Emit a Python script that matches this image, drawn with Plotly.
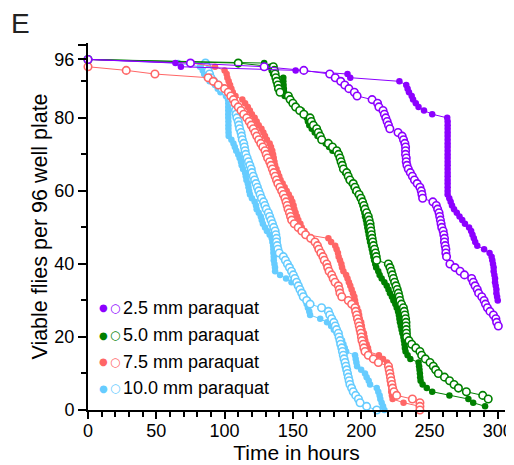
import plotly.graph_objects as go

# ---------------- data (hours, viable flies) ----------------
t_25_filled = [0, 64, 68, 152, 190, 192, 228, 233, 234, 235, 237, 238, 240, 242, 246, 252, 263,
               263.3, 263.3, 263.3, 263.3, 263.3, 263.3, 263.3, 263.3, 263.3, 263.3, 263.3, 263.3, 263.3,
               263.3, 263.3, 263.3, 263.3, 263.3, 263.3, 263.3, 263.3,
               264.5, 265.5, 266.5, 268, 270, 272, 274, 276, 279, 280.5, 281.5, 282.5, 283.5, 285, 290,
               294, 295.5, 296, 296.5, 297, 297, 297.5, 298, 298, 298.5, 299, 299, 299.5, 300]
n_25_filled = [96, 95, 94, 93, 92, 91, 90, 89, 88, 87, 86, 85, 84, 83, 82, 81, 80,
               79, 78, 77, 76, 75, 74, 73, 72, 71, 70, 69, 68, 67, 66, 65, 64, 63, 62, 61, 60, 59,
               58, 57, 56, 55, 54, 53, 52, 51, 50, 49, 48, 47, 46, 45, 44,
               43, 42, 41, 40, 39, 38, 37, 36, 35, 34, 33, 32, 31, 30]

t_25_open = [0, 75, 129, 158, 177, 181, 185, 188, 191, 195, 197, 208, 212, 213, 216, 217, 218, 219,
             220, 221, 227, 230, 231, 232, 232.5, 232.5, 232.5, 233, 233, 233.5, 234.5, 236, 237.5,
             239, 241, 243, 244, 244.5, 245, 252.5, 255, 256, 257, 257.5, 258, 258.5, 259, 260,
             260.5, 261, 261, 261.5, 262, 262, 262.5, 265, 268.7, 272.4, 275.6, 280.9, 282.1, 283.4,
             285, 286, 288.3, 290, 291, 292.4, 294.3, 296.8, 298.6, 299.2, 300.4]
n_25_open = [96, 95, 94, 93, 92, 91, 90, 89, 88, 87, 86, 85, 84, 83, 82, 81, 80, 79,
             78, 77, 76, 75, 74, 73, 72, 71, 70, 69, 68, 67, 66, 65, 64,
             63, 62, 61, 60, 59, 58, 57, 56, 55, 54, 53, 52, 51, 50, 49,
             48, 47, 46, 45, 44, 43, 42, 40, 39, 38, 37, 36, 35, 34,
             33, 32, 31, 30, 29, 28, 27, 26, 25, 24, 23]

t_50_filled = [0, 129, 133.3, 134.5, 135.5, 143, 143, 143.2, 143.4, 143.6, 144, 148.6, 150.3, 152.8,
               156.5, 158.9, 160.1, 161, 162, 163.8, 166, 168, 171, 174, 176.5, 179, 183, 184, 184.8,
               186, 187, 188.2, 190, 191, 193, 194.5, 195.5, 197.5, 199, 200, 201, 201.6, 202.3, 202.8,
               203.5, 204, 204.5, 205, 205.5, 206, 206.5, 207.2, 207.8, 208.3, 208.9, 209.5, 210.3, 211,
               212.5, 213.5, 215, 217, 218.7, 220, 221.1, 222.5, 223.6, 225, 226, 227, 227.6, 228, 228.4,
               229, 229.6, 230.2, 230.9, 231.3, 231.7, 232, 232.5, 234, 236, 242, 242.4, 242.7, 243,
               243.2, 243.5, 245, 248, 252, 264.6, 278.5, 282, 290.7]
n_50_filled = [96, 95, 94, 93, 92, 91, 90, 89, 88, 87, 86, 85, 84, 83,
               82, 81, 80, 79, 78, 77, 76, 75, 74, 73, 72, 71, 70, 69, 68,
               67, 66, 65, 64, 63, 62, 61, 60, 59, 58, 57, 56, 55, 54, 53,
               52, 51, 50, 49, 48, 47, 46, 45, 44, 43, 42, 41, 40, 39,
               38, 37, 36, 35, 34, 33, 32, 31, 30, 29, 28, 27, 26, 25, 24,
               23, 22, 21, 20, 19, 18, 17, 16, 15, 14, 13, 12, 11, 10,
               9, 8, 7, 6, 5, 4, 3, 2, 1]

t_50_open = [0, 110, 135.7, 136.5, 137, 137.5, 138.2, 139, 139.5, 140.6, 146.7, 148, 150, 152, 155,
             158, 162.6, 163.5, 165, 167.4, 168.6, 170, 171.1, 176, 179, 182.1, 183.5, 184.5, 185.3,
             186.2, 187, 189.4, 190.5, 191.8, 194.2, 195.5, 196.7, 198.5, 199.9, 201, 202, 202.8, 204,
             205.2, 205.8, 206.5, 206.8, 207.2, 207.6, 208, 208.5, 209, 209.8, 210.5, 211, 211.4,
             219.9, 221.1, 222, 222.8, 223.6, 224.5, 225.5, 226.4, 227.2, 227.8, 228.4, 229.5, 230.9,
             231.5, 232, 232.5, 232.8, 232.8, 233, 233.1, 233.3, 235, 237, 240, 243, 244.3, 247,
             250.4, 252.8, 254.5, 256.5, 261, 264.7, 268, 271.2, 277, 289, 293]
n_50_open = [96, 95, 94, 93, 92, 91, 90, 89, 88, 87, 86, 85, 84, 83, 82,
             81, 80, 79, 78, 77, 76, 75, 74, 73, 72, 71, 70, 69, 68,
             67, 66, 65, 64, 63, 62, 61, 60, 59, 58, 57, 56, 55, 54,
             53, 52, 51, 50, 49, 48, 47, 46, 45, 44, 43, 42, 41,
             40, 39, 38, 37, 36, 35, 34, 33, 32, 31, 30, 29, 28,
             27, 26, 25, 24, 23, 22, 21, 20, 19, 18, 17, 16, 15, 14,
             13, 12, 11, 10, 9, 8, 7, 6, 5, 4, 3]

t_75_filled = [0, 76, 93, 100, 101.5, 102, 103, 104, 105, 106, 108, 113, 115, 117, 118.5, 120, 122,
               123.5, 125, 127, 128.4, 129.6, 131, 133, 134, 134.9, 135.5, 136, 136.5, 137, 138, 139,
               140, 141, 142.5, 144, 145.5, 147, 148.5, 149.6, 150.5, 151.1, 152, 153, 154, 155.5,
               156.5, 158.5, 160, 176, 178, 181, 182, 183, 183.5, 184.5, 185.5, 186, 187, 189, 190,
               191, 192, 193, 194, 195, 195.5, 196, 197, 198, 198.5, 199, 200, 200.5, 201, 202, 202.5,
               203, 204, 205, 205.5, 213, 216, 219, 219.5, 220, 220.5, 221, 221, 221.5, 222, 222,
               222.5, 223, 231, 243, 243]
n_75_filled = [96, 95, 94, 93, 92, 91, 90, 89, 88, 87, 86, 85, 84, 83, 82, 81, 80,
               79, 78, 77, 76, 75, 74, 73, 72, 71, 70, 69, 68, 67, 66, 65,
               64, 63, 62, 61, 60, 59, 58, 57, 56, 55, 54, 53, 52, 51,
               50, 49, 48, 47, 46, 45, 44, 43, 42, 41, 40, 39, 38, 37, 36,
               35, 34, 33, 32, 31, 30, 29, 28, 27, 26, 25, 24, 23, 22, 21, 20,
               19, 18, 17, 16, 15, 14, 13, 12, 11, 10, 9, 8, 7, 6, 5,
               4, 3, 2, 1, 0]

t_75_open = [0, 28, 49, 88, 91.7, 95.4, 100, 102.7, 104.5, 106.4, 107.6, 110, 112, 114, 116.2, 118,
             119.5, 121, 122.3, 123.5, 125, 126.5, 128, 129.6, 130.5, 131.5, 133, 134, 135, 136, 137,
             138, 139, 140.5, 141.8, 143, 144.2, 145, 145.8, 146.5, 147.5, 148.3, 149.1, 151, 153.9,
             156.5, 159.3, 163, 166.2, 168, 169, 170.5, 172, 173, 174.8, 175.5, 176.5, 178.4, 179.5,
             180.9, 183.3, 184, 184.5, 185.8, 190.6, 193, 195.5, 196, 196.7, 197.3, 198, 198.6, 199.2,
             199.8, 200.2, 200.6, 201.5, 202, 202.8, 205.2, 208.9, 212.6, 220, 220.5, 221, 221.5, 222,
             222.5, 223, 224, 226, 237.5, 243, 243, 243]
n_75_open = [94, 93, 92, 91, 90, 89, 88, 87, 86, 85, 84, 83, 82, 81, 80, 79,
             78, 77, 76, 75, 74, 73, 72, 71, 70, 69, 68, 67, 66, 65, 64,
             63, 62, 61, 60, 59, 58, 57, 56, 55, 54, 53, 52, 51, 50,
             49, 48, 47, 46, 45, 44, 43, 42, 41, 40, 39, 38, 37, 36,
             35, 34, 33, 32, 31, 30, 29, 28, 27, 26, 25, 24, 23, 22,
             21, 20, 19, 18, 17, 16, 15, 14, 13, 12, 11, 10, 9, 8,
             7, 6, 5, 4, 3, 2, 1, 0]

t_100_filled = [0, 66, 82, 84, 85, 87, 89, 93, 95, 97, 101, 102.5, 102.7, 102.7, 102.7, 102.7, 102.7,
                102.8, 102.8, 102.8, 102.9, 103, 105, 106.5, 107.5, 108.5, 110, 111, 112, 112.5,
                113.5, 115, 115.5, 116, 117, 117.5, 118, 118.6, 120, 122, 123, 123.5, 125, 126.5,
                127.2, 128, 129.6, 131, 133, 134.5, 135, 135.5, 135.7, 135.7, 136, 136, 136.5, 136.9,
                137, 140.6, 145, 149, 153, 155, 157.6, 158.5, 159.5, 160.1, 161, 162, 162.6, 170, 175,
                178, 180, 182, 184, 186, 187, 188, 189, 195.5, 196, 196.5, 197, 200, 202.8, 204, 205.5,
                206.5, 211.4, 212.5, 213.5, 214, 215, 216, 217]
n_100_filled = [96, 95, 94, 93, 92, 91, 90, 89, 88, 87, 86, 85, 84, 83, 82, 81, 80,
                79, 78, 77, 76, 75, 74, 73, 72, 71, 70, 69, 68, 67,
                66, 65, 64, 63, 62, 61, 60, 59, 58, 57, 56, 55, 54, 53,
                52, 51, 50, 49, 48, 47, 46, 45, 44, 43, 42, 41, 40, 39,
                38, 37, 36, 35, 34, 33, 32, 31, 30, 29, 28, 27, 26, 25, 24,
                23, 22, 21, 20, 19, 18, 17, 16, 15, 14, 13, 12, 11, 10, 9, 8,
                7, 6, 5, 4, 3, 2, 1, 0]

t_100_open = [0, 86, 87, 88, 89, 90, 92, 95, 98, 101, 103, 105, 106, 107, 108, 108.5, 109, 110,
              110.5, 111, 112, 112.5, 113, 114, 114.5, 115, 115.5, 116.5, 117.5, 118.5, 119.5, 120,
              121, 122, 123, 124, 125, 126, 127, 128.5, 129.5, 130.5, 132, 133, 134, 135, 136, 137,
              137.5, 138, 138, 138.5, 139, 140, 143, 144.5, 146, 147.5, 149, 150.3, 151.5, 152.8, 154,
              155.2, 156.5, 157.6, 160.1, 162.6, 171, 176, 177, 178.4, 180, 181, 182, 183.3, 183.8,
              184.5, 185, 185.8, 186.3, 186.9, 187.5, 188.2, 188.8, 189.4, 190, 190.6, 191.2, 191.8,
              193, 194.2, 196, 198, 199.2, 204, 211.4]
n_100_open = [96, 95, 94, 93, 92, 91, 90, 89, 88, 87, 86, 85, 84, 83, 82, 81, 80, 79,
              78, 77, 76, 75, 74, 73, 72, 71, 70, 69, 68, 67, 66, 65,
              64, 63, 62, 61, 60, 59, 58, 57, 56, 55, 54, 53, 52, 51, 50, 49,
              48, 47, 46, 45, 44, 43, 42, 41, 40, 39, 38, 37, 36, 35, 34,
              33, 32, 31, 30, 29, 28, 27, 26, 25, 24, 23, 22, 21, 20,
              19, 18, 17, 16, 15, 14, 13, 12, 11, 10, 9, 8, 7,
              6, 5, 4, 3, 2, 1, 0]

legend_labels = ["2.5 mm paraquat", "5.0 mm paraquat", "7.5 mm paraquat", "10.0 mm paraquat"]
colors = ["#8C00FF", "#008000", "#FF6666", "#66CCFF"]

x_ticks = [0, 50, 100, 150, 200, 250, 300]
x_minor = [10, 20, 30, 40, 60, 70, 80, 90, 110, 120, 130, 140, 160, 170, 180, 190,
           210, 220, 230, 240, 260, 270, 280, 290]
y_ticks = [0, 20, 40, 60, 80, 96, 100]
y_ticktext = ["0", "20", "40", "60", "80", "96", ""]
y_minor = [10, 30, 50, 70, 90]

# ---------------- figure ----------------
FONT = "Liberation Sans, Arial, sans-serif"
series = [
    (t_100_filled, n_100_filled, t_100_open, n_100_open, colors[3]),
    (t_75_filled, n_75_filled, t_75_open, n_75_open, colors[2]),
    (t_50_filled, n_50_filled, t_50_open, n_50_open, colors[1]),
    (t_25_filled, n_25_filled, t_25_open, n_25_open, colors[0]),
]

fig = go.Figure()
for tf, nf, to, no, c in series:
    fig.add_trace(go.Scatter(x=tf, y=nf, mode="lines+markers", cliponaxis=False,
                             line=dict(color=c, width=1),
                             marker=dict(symbol="circle", size=6.5, color=c, line=dict(width=0)),
                             showlegend=False, hoverinfo="skip"))
    fig.add_trace(go.Scatter(x=to, y=no, mode="lines+markers", cliponaxis=False,
                             line=dict(color=c, width=1),
                             marker=dict(symbol="circle", size=7.5, color="white",
                                         line=dict(color=c, width=1.6)),
                             showlegend=False, hoverinfo="skip"))

# legend drawn as text
row_y = [0.278, 0.204, 0.131, 0.059]
for lab, c, yy in zip(legend_labels, colors, row_y):
    fig.add_annotation(xref="paper", yref="paper", x=0.036, y=yy, text="●", showarrow=False,
                       xanchor="center", yanchor="middle",
                       font=dict(family="DejaVu Sans", size=10, color=c))
    fig.add_annotation(xref="paper", yref="paper", x=0.065, y=yy, text="○", showarrow=False,
                       xanchor="center", yanchor="middle",
                       font=dict(family="DejaVu Sans", size=12, color=c))
    fig.add_annotation(xref="paper", yref="paper", x=0.079, y=yy, text=lab, showarrow=False,
                       xanchor="left", yanchor="middle",
                       font=dict(family=FONT, size=18, color="black"))

fig.add_annotation(xref="paper", yref="paper", x=-0.19, y=1.10, text="E", showarrow=False,
                   xanchor="left", yanchor="top", font=dict(family=FONT, size=28, color="#222"))

axis_common = dict(showline=True, linecolor="black", linewidth=2, showgrid=False, zeroline=False,
                   ticks="outside", tickcolor="black", tickwidth=2, automargin=False,
                   tickfont=dict(family=FONT, size=18, color="black"))

fig.update_xaxes(range=[0, 305.3], tickvals=x_ticks, ticklen=7, ticklabelstandoff=-4,
                 minor=dict(tickvals=x_minor, ticks="outside", ticklen=5, tickwidth=2,
                            tickcolor="black", showgrid=False),
                 title=dict(text="Time in hours", font=dict(family=FONT, size=21, color="black"),
                            standoff=4),
                 **axis_common)
fig.update_yaxes(range=[0, 100.5], tickvals=y_ticks, ticktext=y_ticktext, ticklen=8,
                 minor=dict(tickvals=y_minor, ticks="outside", ticklen=5, tickwidth=2,
                            tickcolor="black", showgrid=False),
                 title=dict(text="Viable flies per 96 well plate",
                            font=dict(family=FONT, size=21.5, color="black"), standoff=1),
                 **axis_common)

# the page places the figure 8 px in from the top-left corner
fig.update_layout(width=506, height=457, margin=dict(l=80, r=9, t=35, b=55),
                  paper_bgcolor="white", plot_bgcolor="white", showlegend=False,
                  font=dict(family=FONT, color="black"))

fig.write_html("out.html")
